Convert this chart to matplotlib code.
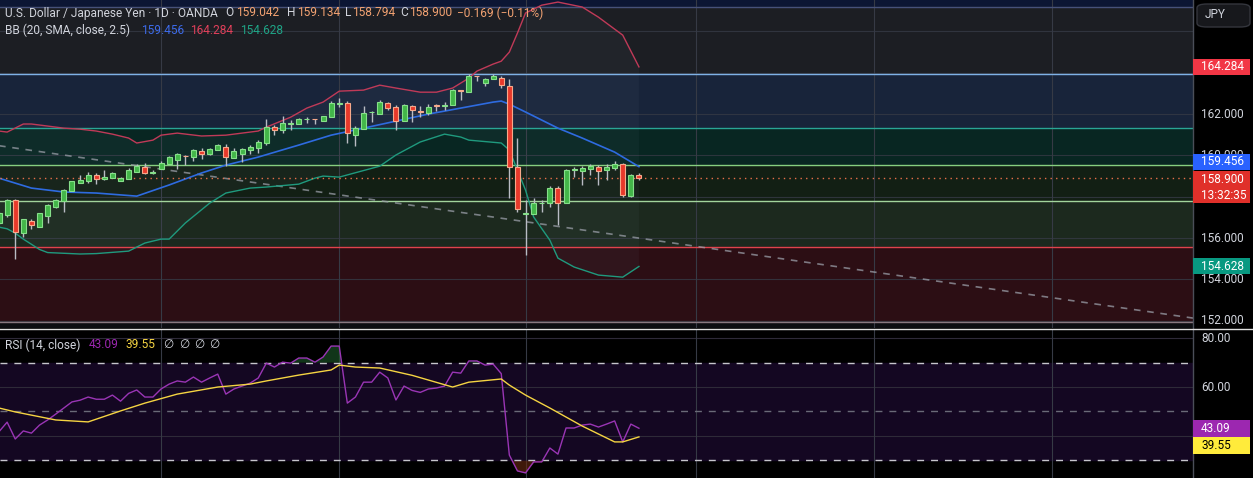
"""USD/JPY daily candles with Bollinger Bands, zones and RSI, TradingView dark look."""

import matplotlib
matplotlib.use("Agg")
import matplotlib.pyplot as plt
import numpy as np
from matplotlib.lines import Line2D
from matplotlib.patches import Rectangle, FancyBboxPatch

# ---- candles, oldest -> newest ----
opens = [156.73, 157.11, 157.84, 156.24, 156.82, 156.53, 157.07, 157.50, 157.79, 158.28,
         158.66, 158.76, 159.05, 158.86, 158.90, 158.76, 158.86, 159.19, 159.44, 159.15,
         159.34, 159.58, 159.78, 159.97, 159.92, 160.21, 160.07, 160.26, 160.40, 159.87,
         160.07, 160.26, 160.36, 160.60, 161.37, 161.23, 161.54, 161.52, 161.75, 161.77,
         161.66, 161.86, 162.51, 162.53, 160.98, 161.27, 162.09, 162.00, 162.53, 162.34,
         161.66, 162.39, 162.15, 162.05, 162.44, 162.41, 162.44, 163.16, 163.06, 163.84,
         163.50, 163.69, 163.74, 163.36, 159.44, 157.16, 157.16, 157.69, 157.69, 158.42,
         157.69, 159.29, 159.24, 159.34, 159.44, 159.29, 159.39, 159.58, 158.03, 159.042]
highs = [157.25, 157.89, 157.89, 156.94, 156.92, 157.23, 157.65, 157.89, 158.37, 158.76,
         159.05, 159.19, 159.15, 159.29, 159.19, 158.95, 159.39, 159.58, 159.63, 159.29,
         159.73, 159.97, 160.11, 160.02, 160.31, 160.36, 160.36, 160.55, 160.55, 160.36,
         160.36, 160.50, 160.74, 161.76, 161.47, 161.90, 161.71, 161.81, 161.86, 161.78,
         161.91, 162.63, 162.77, 162.63, 161.42, 162.39, 162.15, 162.68, 162.58, 162.44,
         162.48, 162.44, 162.39, 162.48, 162.48, 162.58, 163.21, 163.17, 163.94, 163.85,
         163.74, 163.94, 163.84, 163.69, 160.84, 157.84, 157.94, 157.84, 158.52, 158.52,
         159.34, 159.44, 159.48, 159.58, 159.53, 159.58, 159.73, 159.63, 159.10, 159.134]
lows = [156.70, 157.02, 154.99, 156.05, 156.44, 156.52, 156.73, 157.46, 157.26, 158.27,
        158.65, 158.66, 158.61, 158.81, 158.89, 158.75, 158.85, 159.19, 159.10, 159.10,
        159.33, 159.58, 159.34, 159.53, 159.73, 159.82, 160.02, 160.25, 159.48, 159.87,
        159.68, 160.07, 160.11, 160.50, 160.98, 161.08, 161.23, 161.51, 161.57, 161.52,
        161.66, 161.85, 162.34, 160.60, 160.45, 161.27, 161.61, 162.00, 162.19, 161.23,
        161.66, 161.61, 161.86, 161.95, 162.15, 162.19, 162.43, 162.68, 163.06, 163.60,
        163.36, 163.69, 163.26, 157.94, 157.26, 155.18, 157.16, 157.26, 157.50, 156.63,
        157.69, 158.95, 158.57, 159.05, 158.57, 158.81, 159.29, 157.98, 157.98, 158.794]
closes = [157.21, 157.84, 156.29, 156.92, 156.63, 157.21, 157.60, 157.84, 158.32, 158.76,
          158.81, 159.05, 158.86, 158.95, 159.15, 158.90, 159.29, 159.48, 159.15, 159.19,
          159.63, 159.92, 160.07, 159.95, 160.26, 160.07, 160.31, 160.50, 159.92, 160.21,
          160.31, 160.40, 160.65, 161.37, 161.23, 161.57, 161.57, 161.76, 161.77, 161.74,
          161.90, 162.53, 162.54, 161.08, 161.32, 162.05, 162.10, 162.58, 162.29, 161.66,
          162.44, 162.19, 162.12, 162.34, 162.41, 162.44, 163.16, 163.14, 163.84, 163.82,
          163.69, 163.84, 163.40, 159.44, 157.40, 157.17, 157.69, 157.70, 158.42, 157.69,
          159.29, 159.30, 159.39, 159.48, 159.24, 159.44, 159.58, 158.08, 159.05, 158.900]

# ---- Bollinger Bands (20, SMA, close, 2.5), points read at candle indices ----
bb_upper_idx = [0, 1, 3, 4, 6, 8, 10, 12, 14, 16, 17, 19, 20, 22, 25, 28, 32, 33, 36, 38, 40,
                42, 45, 47, 49, 52, 54, 56, 58, 59, 61, 62, 63, 64, 65, 67, 69, 72, 74, 77, 79]
bb_upper = [161.18, 161.13, 161.52, 161.52, 161.42, 161.32, 161.27, 161.18, 161.03, 160.84,
            160.60, 160.74, 160.98, 161.08, 160.94, 160.98, 161.18, 161.37, 161.85, 162.29,
            162.58, 163.11, 163.16, 163.40, 163.26, 163.06, 163.06, 163.26, 163.74, 164.08,
            164.42, 164.56, 165.00, 165.92, 166.89, 167.27, 167.42, 167.18, 166.69, 165.82,
            164.284]
bb_mid_idx = [0, 4, 8, 12, 17, 21, 25, 28, 32, 37, 41, 45, 49, 53, 57, 61, 62, 63, 65, 69,
              72, 76, 79]
bb_mid = [158.90, 158.42, 158.23, 158.18, 158.03, 158.57, 159.15, 159.53, 159.92, 160.50,
          160.98, 161.32, 161.66, 162.00, 162.29, 162.58, 162.63, 162.48, 162.10, 161.32,
          160.84, 160.16, 159.456]
bb_lower_idx = [0, 1, 2, 3, 4, 5, 6, 10, 12, 16, 18, 20, 21, 23, 26, 28, 31, 33, 37, 39, 40,
                42, 47, 49, 52, 55, 57, 58, 62, 63, 64, 65, 66, 68, 69, 71, 74, 77, 79]
bb_lower = [156.53, 156.45, 156.24, 155.95, 155.70, 155.45, 155.30, 155.23, 155.25, 155.37,
            155.76, 155.95, 155.95, 156.73, 157.69, 158.18, 158.42, 158.47, 158.61, 158.90,
            159.00, 158.95, 159.48, 160.02, 160.65, 161.03, 160.89, 160.74, 160.60, 160.26,
            159.29, 158.32, 157.02, 155.90, 155.03, 154.60, 154.21, 154.11, 154.628]

# ---- RSI (14, close) per candle, and its moving average ----
rsi = [41.7, 45.6, 38.7, 42.0, 41.1, 44.4, 46.5, 48.9, 51.4, 53.9,
       54.6, 55.9, 55.0, 55.0, 56.7, 54.2, 57.4, 58.8, 55.9, 55.9,
       59.2, 61.2, 62.5, 62.0, 64.1, 62.0, 63.7, 65.3, 57.1, 59.2,
       60.4, 61.6, 63.7, 69.8, 68.2, 70.2, 69.8, 71.9, 71.9, 70.2,
       72.3, 76.8, 76.8, 53.4, 55.9, 62.0, 62.0, 66.1, 63.7, 54.7,
       60.4, 58.6, 57.8, 59.2, 59.6, 60.4, 66.1, 65.7, 70.7, 70.7,
       69.0, 69.4, 65.5, 32.1, 25.6, 24.8, 29.3, 29.3, 35.0, 32.5,
       43.2, 43.2, 44.4, 44.8, 43.6, 44.8, 46.1, 37.5, 44.8, 43.09]
rsi_ma_idx = [0, 2, 7, 11, 15, 18, 22, 27, 31, 33, 37, 41, 42, 44, 47, 51, 56, 58, 62, 63,
              65, 68, 72, 76, 77, 79]
rsi_ma = [51.4, 49.8, 46.5, 45.7, 50.2, 53.4, 57.1, 60.0, 61.2, 62.5, 64.9, 67.0, 69.0, 68.2,
          67.8, 64.8, 60.0, 62.0, 63.3, 60.8, 56.7, 51.4, 44.0, 37.5, 37.5, 39.55]

# ---- drawn objects ----
zone_edges = [167.18, 163.94, 161.32, 159.53, 157.79, 155.57, 151.94]
zone_colors = ["#1c1e23", "#18243a", "#082622", "#121f14", "#1c291e", "#2c0e14"]
edge_colors = ["#46517a", "#7fb2e6", "#2aa596", "#86cf80", "#a2d49c", "#e0434c", "#8a7880"]
trend_idx = [0, 147.4]
trend_val = [160.47, 152.13]
month_idx = [20, 42, 65, 86, 108, 130]
grid_prices = [152, 154, 156, 158, 160, 162, 164, 166]
price_labels = [152, 154, 156, 160, 162]   # 158 / 164 sit under the price tags
rsi_grid = [80, 60, 40]
rsi_labels = [80, 60]

plt.rcParams["font.family"] = ["Roboto", "DejaVu Sans"]
TXT = "#d1d4dc"
GRID = "#363a45"

W, H = 1253, 478
fig = plt.figure(figsize=(W / 100, H / 100), dpi=100, facecolor="#000000")
ax = fig.add_axes([0, 1 - 328 / H, 1193 / W, 328 / H])
ax_r = fig.add_axes([0, 0, 1193 / W, 149 / H])
for a in (ax, ax_r):
    a.set_xlim(0.12, 147.4)
    a.axis("off")
ax.set_ylim(151.65, 167.52)
ax_r.set_ylim(22.7, 83.8)

# zones
ylo, yhi = ax.get_ylim()
ax.axhspan(zone_edges[0], yhi, color="#0c1634", zorder=0)
for top, bot, c in zip(zone_edges[:-1], zone_edges[1:], zone_colors):
    ax.axhspan(bot, top, color=c, zorder=0)
ax.axhspan(ylo, zone_edges[-1], color="#0d0e12", zorder=0)
for p in grid_prices:
    ax.axhline(p, color=GRID, lw=0.8, alpha=0.8, zorder=1)
for m in month_idx:
    ax.axvline(m, color=GRID, lw=0.8, zorder=1)
for e, c in zip(zone_edges, edge_colors):
    ax.axhline(e, color=c, lw=1, zorder=2)

# bollinger fill, trend line
ax.fill(np.r_[bb_upper_idx, bb_lower_idx[::-1]], np.r_[bb_upper, bb_lower[::-1]],
        color="#8ea0b8", alpha=0.05, lw=0, zorder=1.5)
ax.plot(trend_idx, trend_val, color="#9a9ea8", lw=1.2, alpha=0.75, dashes=(4, 4), zorder=2.5)

ax.plot(bb_upper_idx, bb_upper, color="#c03a58", lw=1, zorder=3)
ax.plot(bb_mid_idx, bb_mid, color="#2e6be0", lw=1.2, zorder=3)
ax.plot(bb_lower_idx, bb_lower, color="#1f9a7e", lw=1, zorder=3)
ax.axhline(closes[-1], color="#e8704a", lw=1, dashes=(1, 3), zorder=3)

# candles
o, h, l, c = map(np.array, (opens, highs, lows, closes))
idx = np.arange(len(c))
up = c >= o
lo = np.minimum(o, c)
bh = np.maximum(np.abs(c - o), 0.03)
ax.vlines(idx, l, h, color="#b9bcc4", lw=1, zorder=4)
ax.bar(idx[up], bh[up], bottom=lo[up], width=0.62, color="#43b649",
       edgecolor="#86e08a", lw=0.8, zorder=5)
ax.bar(idx[~up], bh[~up], bottom=lo[~up], width=0.62, color="#e8392b",
       edgecolor="#f7a98b", lw=0.8, zorder=5)

# RSI panel
ax_r.axhspan(30, 70, color="#140722", zorder=0)
for v in rsi_grid:
    ax_r.axhline(v, color="#2e2a38", lw=0.8, zorder=1)
for m in month_idx:
    ax_r.axvline(m, color=GRID, lw=0.8, zorder=1)
ax_r.axhline(70, color="#c6c6cc", lw=1, dashes=(5, 5), zorder=2)
ax_r.axhline(50, color="#6a6a78", lw=1, dashes=(5, 5), zorder=2)
ax_r.axhline(30, color="#c6c6cc", lw=1, dashes=(5, 5), zorder=2)
r = np.array(rsi)
ri = np.arange(len(r))
ax_r.fill_between(ri, r, 70, where=r > 70, interpolate=True, color="#1e5a2a", alpha=0.6, lw=0)
ax_r.fill_between(ri, r, 30, where=r < 30, interpolate=True, color="#6a2a12", alpha=0.6, lw=0)
ax_r.plot(ri, r, color="#9a35b5", lw=1, zorder=3)
ax_r.plot(rsi_ma_idx, rsi_ma, color="#f5d442", lw=1, zorder=4)

# ---- figure level overlays: separators, axis labels, tags, legends ----
inv = fig.transFigure.inverted()


def fy(a, v):
    return inv.transform(a.transData.transform((1, v)))[1]


def px(x):
    return x / W


def py(y):
    return 1 - y / H


fig.add_artist(Line2D([px(1193), px(1193)], [0, 1], color="#4a4e58", lw=1, zorder=2))
fig.add_artist(Line2D([0, 1], [py(328.5), py(328.5)], color="#e0e0e0", lw=1, zorder=2))

for p in price_labels:
    fig.text(px(1201), fy(ax, p), f"{p:.3f}", color=TXT, fontsize=8.5, va="center", zorder=3)
for v in rsi_labels:
    fig.text(px(1201), fy(ax_r, v), f"{v:.2f}", color=TXT, fontsize=8.5, va="center", zorder=3)


def tag(yc, lines, bg, fg, hpx=16):
    hh = hpx / H
    fig.add_artist(Rectangle((px(1193), yc - hh / 2), px(57), hh, transform=fig.transFigure,
                             facecolor=bg, edgecolor="none", zorder=4))
    n = len(lines)
    for k, s in enumerate(lines):
        yy = yc + hh / 2 - (k + 0.5) * hh / n
        fig.text(px(1201), yy, s, color=fg, fontsize=8.5, va="center", zorder=5)


tag(fy(ax, bb_upper[-1]), ["164.284"], "#f23645", "white")
tag(fy(ax, bb_mid[-1]) + 5 / H, ["159.456"], "#2962ff", "white")
tag(fy(ax, closes[-1]) - 9 / H, ["158.900", "13:32:35"], "#e0302a", "white", hpx=32)
tag(fy(ax, bb_lower[-1]), ["154.628"], "#089981", "white")
tag(fy(ax_r, rsi[-1]), ["43.09"], "#9c27b0", "white", hpx=17)
tag(fy(ax_r, rsi[-1]) - 17 / H, ["39.55"], "#ffeb3b", "black", hpx=17)

fig.add_artist(FancyBboxPatch((px(1197), py(27)), px(53), 23 / H, transform=fig.transFigure,
                              boxstyle="round,pad=0,rounding_size=0.008",
                              facecolor="#17181c", edgecolor="#34363d", lw=1, zorder=4))
fig.text(px(1205), py(15), "JPY", color=TXT, fontsize=8.5, va="center", zorder=5)


def say(x, y, s, color, size=8.6):
    fig.text(px(x), py(y), s, color=color, fontsize=size, va="center", zorder=6)


VAL = "#f2a272"
say(5, 13, "U.S. Dollar / Japanese Yen · 1D · OANDA", TXT)
say(225, 13, "O", TXT)
say(236, 13, "159.042", VAL)
say(287, 13, "H", TXT)
say(297, 13, "159.134", VAL)
say(345, 13, "L", TXT)
say(352, 13, "158.794", VAL)
say(400, 13, "C", TXT)
say(409, 13, "158.900", VAL)
say(457, 13, "\u22120.169 (\u22120.11%)", VAL)

say(5, 30, "BB (20, SMA, close, 2.5)", TXT)
say(141, 30, "159.456", "#3d6bea")
say(190, 30, "164.284", "#e0405a")
say(240, 30, "154.628", "#1fa486")

say(5, 345, "RSI (14, close)", TXT)
say(89, 345, "43.09", "#9c27b0")
say(126, 345, "39.55", "#f5d442")
for xx in (163, 179, 194, 209):
    say(xx, 345, "\u2205", TXT)

fig.savefig("out.png", dpi=100, facecolor=fig.get_facecolor())
plt.close(fig)
